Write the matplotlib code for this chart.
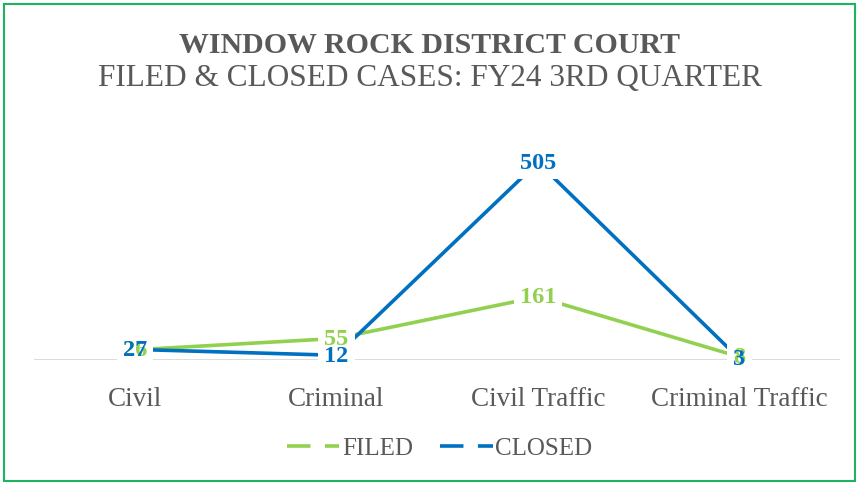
import matplotlib
matplotlib.use("Agg")
import matplotlib.pyplot as plt
from matplotlib.lines import Line2D
from matplotlib.patches import Rectangle

categories = ["Civil", "Criminal", "Civil Traffic", "Criminal Traffic"]
filed = [26, 55, 161, 8]
closed = [27, 12, 505, 3]

green = "#92D050"
blue = "#0070C0"
grey = "#595959"

plt.rcParams["font.family"] = ["Liberation Serif", "DejaVu Serif"]

fig = plt.figure(figsize=(8.59, 4.85), dpi=100)
ax = fig.add_axes([0.0396, 0.2557, 0.9385, 0.452])

x = list(range(len(categories)))
ax.plot(x, filed, color=green, lw=2.6, solid_capstyle="butt", zorder=2)
ax.plot(x, closed, color=blue, lw=2.6, solid_capstyle="butt", zorder=2)

# baseline
ax.axhline(0, color="#D9D9D9", lw=1.3, zorder=1)

# white boxes first so both labels stay visible where they overlap
for series in (filed, closed):
    for xi, v in zip(x, series):
        ax.text(xi, v, str(v), ha="center", va="center", fontsize=17.5,
                fontweight="bold", color="none", zorder=3,
                bbox=dict(boxstyle="square,pad=0.25", fc="white", ec="none"))
for series, col in ((filed, green), (closed, blue)):
    for xi, v in zip(x, series):
        ax.text(xi, v, str(v), ha="center", va="center", fontsize=17.5,
                fontweight="bold", color=col, zorder=4)

ax.set_xlim(-0.5, 3.5)
ax.set_ylim(0, 560)
ax.set_xticks(x)
ax.set_xticklabels(categories, fontsize=19.5, color=grey)
ax.tick_params(axis="x", length=0, pad=19)
ax.set_yticks([])
for s in ax.spines.values():
    s.set_visible(False)

fig.text(0.5, 0.907, "WINDOW ROCK DISTRICT COURT", ha="center", va="center",
         fontsize=21.5, fontweight="bold", color=grey)
fig.text(0.5, 0.838, "FILED & CLOSED CASES: FY24 3RD QUARTER", ha="center",
         va="center", fontsize=22.5, color=grey)

handles = [Line2D([], [], color=green, lw=2.6, dashes=(6.5, 4)),
           Line2D([], [], color=blue, lw=2.6, dashes=(6.5, 4))]
fig.legend(handles, ["FILED", "CLOSED"], loc="center", bbox_to_anchor=(0.512, 0.074),
           ncol=2, frameon=False, fontsize=18, handlelength=2.1, handletextpad=0.1,
           columnspacing=1.1, labelcolor=grey)

fig.patches.append(Rectangle((4 / 859, 3 / 485), 851 / 859, 477 / 485,
                             transform=fig.transFigure, fill=False,
                             ec="#1DB35F", lw=1.5))

fig.savefig("out.png", dpi=100)
